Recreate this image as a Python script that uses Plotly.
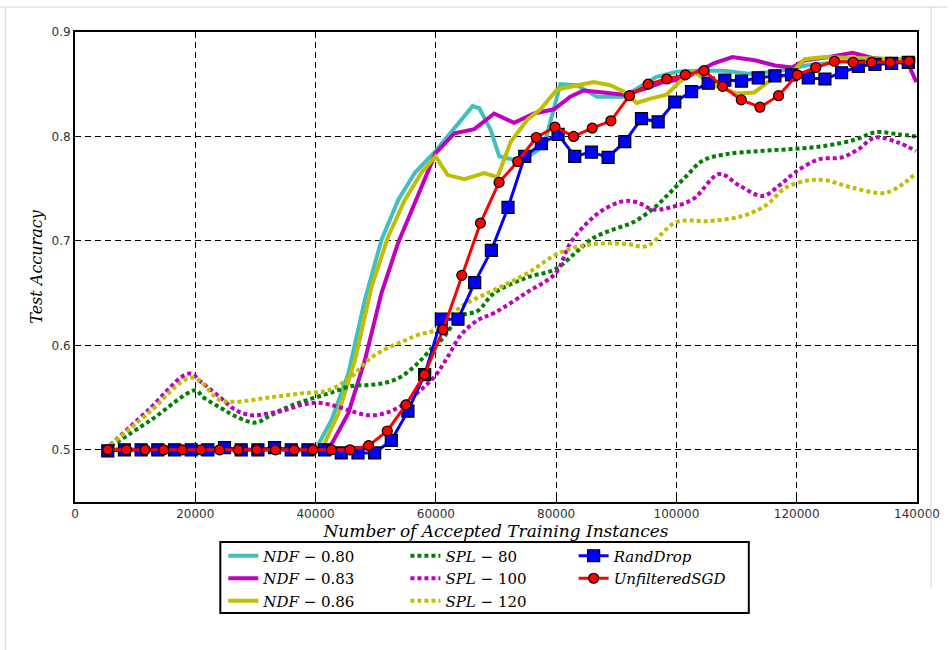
import plotly.graph_objects as go

# ---------------- data ----------------
ndf80_x = [5000, 40000, 42700, 45450, 48210, 50960, 53720, 56480, 59950, 64130, 66110, 67220,
           69140, 70530, 72730, 75210, 77970, 80710, 83470, 86780, 91190, 96690, 100080,
           103470, 107930, 111900, 116530, 121490, 128100, 139830]
ndf80_y = [0.500, 0.500, 0.529, 0.573, 0.644, 0.701, 0.739, 0.765, 0.786, 0.816, 0.829, 0.827,
           0.806, 0.781, 0.778, 0.780, 0.791, 0.850, 0.849, 0.838, 0.838, 0.857, 0.862,
           0.863, 0.863, 0.860, 0.862, 0.868, 0.872, 0.872]

ndf83_x = [5000, 42150, 45450, 48210, 50960, 53720, 56480, 59950, 63090, 66400, 69700, 73010,
           76320, 79630, 82360, 84570, 87880, 91190, 94500, 97810, 101110, 102800, 106200,
           109300, 113000, 116400, 119200, 121400, 125400, 129300, 132700, 137200, 138800, 139900]
ndf83_y = [0.500, 0.500, 0.535, 0.586, 0.650, 0.698, 0.736, 0.784, 0.803, 0.807, 0.822, 0.813,
           0.822, 0.826, 0.838, 0.844, 0.842, 0.840, 0.845, 0.852, 0.855, 0.860, 0.870,
           0.876, 0.873, 0.868, 0.866, 0.873, 0.876, 0.880, 0.875, 0.872, 0.866, 0.852]

ndf86_x = [5000, 41000, 43800, 46560, 49310, 52070, 54820, 57570, 59950, 61980, 64740, 68040,
           70250, 72450, 75210, 77400, 80170, 83470, 86230, 88980, 91190, 93390, 95540, 98350,
           100500, 102800, 106600, 110100, 112900, 115700, 119000, 121300, 124600, 129300,
           134900, 139830]
ndf86_y = [0.500, 0.500, 0.535, 0.586, 0.656, 0.704, 0.739, 0.765, 0.781, 0.763, 0.759, 0.765,
           0.761, 0.795, 0.816, 0.826, 0.845, 0.849, 0.852, 0.849, 0.843, 0.832, 0.836, 0.840,
           0.852, 0.862, 0.848, 0.841, 0.842, 0.854, 0.860, 0.874, 0.876, 0.875,
           0.874, 0.874]

spl80_x = [5000, 12500, 20100, 21150, 23970, 26730, 30030, 32230, 34990, 37690, 40500, 43250,
           45950, 48760, 51520, 54210, 57020, 59780, 60880, 64180, 66940, 69700, 75210, 79890,
           83470, 86230, 89530, 92840, 96150, 98890, 101650, 104410, 108260, 113770, 119290,
           124790, 129750, 133060, 136910, 139830]
spl80_y = [0.500, 0.528, 0.557, 0.551, 0.541, 0.532, 0.526, 0.532, 0.540, 0.546, 0.551, 0.556,
           0.561, 0.562, 0.564, 0.570, 0.583, 0.600, 0.605, 0.628, 0.633, 0.650, 0.665, 0.673,
           0.690, 0.703, 0.711, 0.718, 0.731, 0.746, 0.762, 0.777, 0.783, 0.786, 0.788,
           0.791, 0.797, 0.804, 0.802, 0.800]

spl100_x = [5000, 12000, 19000, 21150, 23970, 26730, 29470, 32230, 34990, 37690, 40500, 43250,
            45950, 48760, 51520, 54210, 57020, 59780, 61980, 64180, 66940, 69700, 75210, 79890,
            82360, 85120, 87880, 91190, 93390, 96150, 98890, 102760, 107160, 110470, 114330,
            117080, 119830, 123690, 127550, 130300, 133060, 136910, 139830]
spl100_y = [0.500, 0.537, 0.573, 0.564, 0.551, 0.538, 0.533, 0.535, 0.538, 0.543, 0.545, 0.542,
            0.537, 0.533, 0.535, 0.542, 0.555, 0.570, 0.589, 0.610, 0.624, 0.631, 0.651, 0.669,
            0.698, 0.717, 0.730, 0.738, 0.737, 0.730, 0.732, 0.740, 0.764, 0.753, 0.743,
            0.753, 0.766, 0.778, 0.780, 0.788, 0.799, 0.794, 0.786]

spl120_x = [5000, 12200, 19500, 23970, 26730, 32230, 37690, 42150, 45950, 48760, 51520, 54210,
            57020, 60000, 64180, 69700, 75210, 80710, 86230, 91740, 95040, 100000, 105500,
            111030, 114880, 118180, 122040, 124790, 129210, 134710, 138020, 139830]
spl120_y = [0.500, 0.535, 0.569, 0.548, 0.546, 0.550, 0.554, 0.557, 0.570, 0.586, 0.596, 0.603,
            0.610, 0.615, 0.637, 0.653, 0.669, 0.689, 0.697, 0.697, 0.695, 0.718, 0.719,
            0.724, 0.734, 0.751, 0.758, 0.758, 0.751, 0.746, 0.756, 0.765]

rand_x = [5450, 8220, 11000, 13770, 16540, 19320, 22090, 24860, 27630, 30410, 33180, 35950,
          38730, 41500, 44270, 47050, 49820, 52590, 55360, 58140, 60910, 63680, 66460, 69230,
          72000, 74780, 77550, 80320, 83090, 85870, 88640, 91410, 94190, 96960, 99730, 102510,
          105280, 108050, 110820, 113600, 116370, 119140, 121920, 124690, 127460, 130240,
          133010, 135780, 138550]
rand_y = [0.499, 0.500, 0.500, 0.500, 0.500, 0.500, 0.500, 0.502, 0.500, 0.500, 0.502, 0.500,
          0.500, 0.500, 0.497, 0.497, 0.497, 0.509, 0.537, 0.572, 0.625, 0.625, 0.660, 0.691,
          0.732, 0.781, 0.793, 0.802, 0.781, 0.785, 0.780, 0.795, 0.817, 0.814, 0.833, 0.843,
          0.851, 0.854, 0.853, 0.856, 0.858, 0.859, 0.856, 0.855, 0.861, 0.867,
          0.869, 0.870, 0.871]

sgd_x = [5450, 8550, 11650, 14740, 17840, 20940, 24040, 27140, 30230, 33330, 36430, 39530,
         42630, 45720, 48820, 51920, 55020, 58120, 61210, 64310, 67410, 70510, 73610, 76700,
         79800, 82900, 86000, 89100, 92190, 95290, 98390, 101490, 104590, 107680, 110780,
         113880, 116980, 120080, 123170, 126270, 129370, 132470, 135570, 138660]
sgd_y = [0.500, 0.500, 0.500, 0.500, 0.500, 0.500, 0.500, 0.500, 0.500, 0.500, 0.500, 0.500,
         0.500, 0.500, 0.504, 0.518, 0.543, 0.572, 0.615, 0.667, 0.717, 0.756, 0.776, 0.799,
         0.809, 0.800, 0.808, 0.815, 0.839, 0.850, 0.855, 0.859, 0.863, 0.848, 0.835,
         0.828, 0.839, 0.859, 0.866, 0.872, 0.871, 0.871, 0.871, 0.872]

x_ticks = [0, 20000, 40000, 60000, 80000, 100000, 120000, 140000]
y_ticks = [0.5, 0.6, 0.7, 0.8, 0.9]

# ---------------- figure ----------------
fig = go.Figure()

def solid(x, y, name, color, legend):
    fig.add_trace(go.Scatter(x=x, y=y, name=name, mode="lines",
                             line=dict(color=color, width=4), legend=legend))

def dotted(x, y, name, color, legend):
    fig.add_trace(go.Scatter(x=x, y=y, name=name, mode="lines", line_shape="spline",
                             line=dict(color=color, width=4, dash="4px,3px"), legend=legend))

solid(ndf80_x, ndf80_y, "<i>NDF</i> − 0.80", "#40bfbf", "legend")
solid(ndf83_x, ndf83_y, "<i>NDF</i> − 0.83", "#bf00bf", "legend")
solid(ndf86_x, ndf86_y, "<i>NDF</i> − 0.86", "#bfbf00", "legend")
dotted(spl80_x, spl80_y, "<i>SPL</i> − 80", "#008000", "legend2")
dotted(spl100_x, spl100_y, "<i>SPL</i> − 100", "#bf00bf", "legend2")
dotted(spl120_x, spl120_y, "<i>SPL</i> − 120", "#bfbf00", "legend2")

fig.add_trace(go.Scatter(x=rand_x, y=rand_y, name="<i>RandDrop</i>", mode="lines+markers",
                         line=dict(color="#0000ff", width=3),
                         marker=dict(symbol="square", size=12, color="#0000ff",
                                     line=dict(color="black", width=1.2)),
                         legend="legend3"))
fig.add_trace(go.Scatter(x=sgd_x, y=sgd_y, name="<i>UnfilteredSGD</i>", mode="lines+markers",
                         line=dict(color="#ff0000", width=3),
                         marker=dict(symbol="circle", size=10, color="#ff0000",
                                     line=dict(color="black", width=1.2)),
                         legend="legend3"))

L, R, T, B = 75, 31, 32, 148
W, H = 952, 650
pw, ph = W - L - R, H - T - B

def px(xp):
    return (xp - L) / pw

def py(yp):
    return (H - B - yp) / ph

legend_font = dict(family="DejaVu Serif", size=15, color="black")
leg_common = dict(bgcolor="rgba(0,0,0,0)", borderwidth=0, font=legend_font,
                  xanchor="left", yanchor="top", orientation="v", itemwidth=30)

tickfont = dict(family="DejaVu Sans", size=12, color="#333333")
grid = dict(showgrid=True, gridcolor="black", gridwidth=1.3, griddash="6px,4px",
            showline=True, linecolor="black", linewidth=2, mirror="ticks",
            ticks="inside", ticklen=5, tickcolor="black", tickwidth=1,
            zeroline=False, tickfont=tickfont)

fig.update_layout(
    width=W, height=H,
    margin=dict(l=L, r=R, t=T, b=B, pad=0),
    paper_bgcolor="white", plot_bgcolor="white",
    xaxis=dict(range=[0, 140000], tickvals=x_ticks, tickformat="d",
               title=dict(text="<i>Number of Accepted Training Instances</i>", standoff=4,
                          font=dict(family="DejaVu Serif", size=17, color="black")),
               **grid),
    yaxis=dict(range=[0.45, 0.9], tickvals=y_ticks, tickformat=".1f",
               title=dict(text="<i>Test Accuracy</i>", standoff=5,
                          font=dict(family="DejaVu Serif", size=16, color="black")),
               **grid),
    legend=dict(x=px(224), y=py(539.5), **leg_common),
    legend2=dict(x=px(407), y=py(539.5), **leg_common),
    legend3=dict(x=px(576), y=py(539.5), **leg_common),
    shapes=[
        dict(type="rect", xref="paper", yref="paper", x0=px(221), x1=px(752),
             y0=py(613), y1=py(542), line=dict(color="black", width=2)),
        dict(type="line", xref="paper", yref="paper", x0=px(0), x1=px(952),
             y0=py(7), y1=py(7), line=dict(color="#d4d4d4", width=1)),
        dict(type="line", xref="paper", yref="paper", x0=px(5), x1=px(5),
             y0=py(7), y1=py(650), line=dict(color="#d4d4d4", width=1)),
        dict(type="line", xref="paper", yref="paper", x0=px(935), x1=px(935),
             y0=py(7), y1=py(588), line=dict(color="#d4d4d4", width=1)),
    ],
    showlegend=True,
)

fig.write_html("out.html")
